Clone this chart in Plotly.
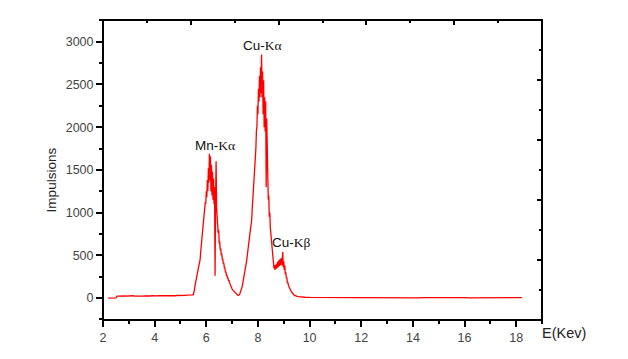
import numpy as np
import plotly.graph_objects as go

# spectrum, counts per channel, in segments
low_start, low_step = 2.20, 0.05
low_counts = [0, 0, 1, 0, 1, 0, 2, 22,
              24, 23, 25, 22, 24, 26, 23, 25, 24, 22, 25, 27, 24, 23, 26, 25,
              24, 27, 25, 23, 26, 24, 27, 25, 26, 24, 28, 26, 25, 27, 26, 28,
              25, 27, 29, 26, 28, 27, 29, 28, 26, 29, 30, 28, 27, 30, 29, 31,
              28, 30, 32, 30, 31, 33, 32, 34, 33, 36]

mn_start, mn_step = 5.50, 0.02
mn_counts = [40, 60, 95, 140, 180, 220, 250, 280, 310, 330,
             360, 380, 400, 450, 530, 590, 640, 710, 760, 850,
             900, 980, 1020, 1120, 1100, 1250, 1180, 1380, 1250, 1520,
             1350, 1690, 1380, 1660, 1250, 1560, 1200, 1480, 1150, 1400,
             1100, 1300, 260, 1180, 1600, 1050, 900, 950, 760, 800,
             640, 660, 560, 580, 500, 520, 450, 460, 400, 410,
             350, 360, 300, 310, 260, 270, 230, 240, 200, 210,
             180, 160, 150, 130, 120, 105, 95, 88, 80, 74,
             68, 62, 56, 50, 44, 38]

cu_start, cu_step = 7.22, 0.02
cu_counts = [33, 31, 32, 38, 50, 65, 80, 100, 125, 150,
             180, 210, 245, 280, 320, 350, 380, 430, 480, 540,
             600, 660, 720, 760, 800, 830, 870, 920, 1050, 1150,
             1250, 1320, 1450, 1500, 1700, 1750, 1950, 2000, 2250, 2150,
             2450, 2300, 2600, 2350, 2700, 2400, 2850, 2350, 2650, 2150,
             2550, 2000, 2350, 1950, 2300, 1300, 2100, 1600, 1500, 1150,
             1200, 950, 1000, 820, 750, 650, 580, 480, 430, 400,
             350, 380, 330, 390, 340, 400, 350, 420, 360, 440,
             370, 450, 380, 460, 390, 470, 380, 540, 360, 430,
             330, 380, 280, 300, 230, 240, 180, 180, 150, 140,
             120, 110, 95, 80, 70, 60, 52, 46, 40, 36,
             32, 28, 25, 22, 20, 18, 17, 16, 15, 14]

high_start, high_step = 9.62, 0.2
high_counts = [12, 9, 7, 6, 5, 6, 4, 5, 6, 4, 5, 4, 6, 5, 4, 5, 3, 5, 4, 5,
               6, 4, 5, 3, 4, 5, 4, 3, 5, 4, 3, 4, 5, 3, 4, 3, 4, 5, 3, 4,
               3, 4, 3, 4]

segments = [(low_start, low_step, low_counts), (mn_start, mn_step, mn_counts),
            (cu_start, cu_step, cu_counts), (high_start, high_step, high_counts)]
energy = np.concatenate([s + st * np.arange(len(c)) for s, st, c in segments])
counts = np.concatenate([c for _, _, c in segments])

peak_labels = ["Mn-", "Cu-", "Cu-"]
peak_lines = ["K\u03b1", "K\u03b1", "K\u03b2"]
label_e = [6.33, 8.17, 9.31]
label_i = [1790, 2950, 645]

font_sans = "Liberation Sans, Arial, sans-serif"
font_serif = "Liberation Serif, Times New Roman, serif"

fig = go.Figure()
fig.add_trace(go.Scatter(x=energy, y=counts, mode="lines",
                         line=dict(color="#ff0000", width=1.3), showlegend=False))
# empty trace so the top/right tick layer exists
fig.add_trace(go.Scatter(x=[None], y=[None], xaxis="x2", yaxis="y2",
                         mode="lines", showlegend=False, hoverinfo="skip"))

for pre, ln, xe, yi in zip(peak_labels, peak_lines, label_e, label_i):
    fig.add_annotation(x=xe, y=yi, xref="x", yref="y", showarrow=False,
                       text=pre + '<span style="font-family:' + font_serif + '">' + ln + '</span>',
                       font=dict(family=font_sans, size=13.5, color="#111"))

fig.add_annotation(xref="paper", yref="paper", x=1, y=0, xanchor="left", yanchor="middle",
                   xshift=-2, yshift=-13, showarrow=False, text="E(Kev)",
                   font=dict(family=font_sans, size=14.5, color="#222"))
fig.add_annotation(xref="paper", yref="paper", x=-0.139, y=0.467, textangle=-90,
                   showarrow=False, text="Impulsions",
                   font=dict(family=font_sans, size=13.5, color="#222"))

# frame
fig.add_shape(type="rect", xref="paper", yref="paper", x0=0, y0=0, x1=1, y1=1,
              line=dict(color="black", width=2), layer="above")

tickfont = dict(family=font_sans, size=12.5, color="#444")
fig.update_layout(
    width=628, height=359,
    margin=dict(l=95, r=94, t=12, b=47),
    paper_bgcolor="white", plot_bgcolor="white",
    xaxis=dict(range=[2, 19], dtick=2, tick0=2, ticks="outside", ticklen=6, tickwidth=1.5,
               tickcolor="black", showline=False, showgrid=False, zeroline=False,
               tickfont=tickfont,
               minor=dict(dtick=1, ticks="outside", ticklen=3, tickcolor="black")),
    yaxis=dict(range=[-257, 3254], dtick=500, tick0=0, ticks="outside", ticklen=6, tickwidth=1.5,
               tickcolor="black", showline=False, showgrid=False, zeroline=False,
               tickfont=tickfont,
               minor=dict(dtick=250, ticks="outside", ticklen=3, tickcolor="black")),
    xaxis2=dict(overlaying="x", side="top", anchor="y2", range=[0, 10], dtick=2, tick0=0,
                ticks="inside", ticklen=5, tickwidth=1.5, tickcolor="black",
                showticklabels=False, showline=False, showgrid=False, zeroline=False,
                minor=dict(dtick=1, ticks="inside", ticklen=3, tickcolor="black")),
    yaxis2=dict(overlaying="y", side="right", anchor="x2", range=[0, 10], dtick=2, tick0=0,
                ticks="inside", ticklen=5, tickwidth=1.5, tickcolor="black",
                showticklabels=False, showline=False, showgrid=False, zeroline=False,
                minor=dict(dtick=1, ticks="inside", ticklen=3, tickcolor="black")),
)

fig.write_html("out.html")
